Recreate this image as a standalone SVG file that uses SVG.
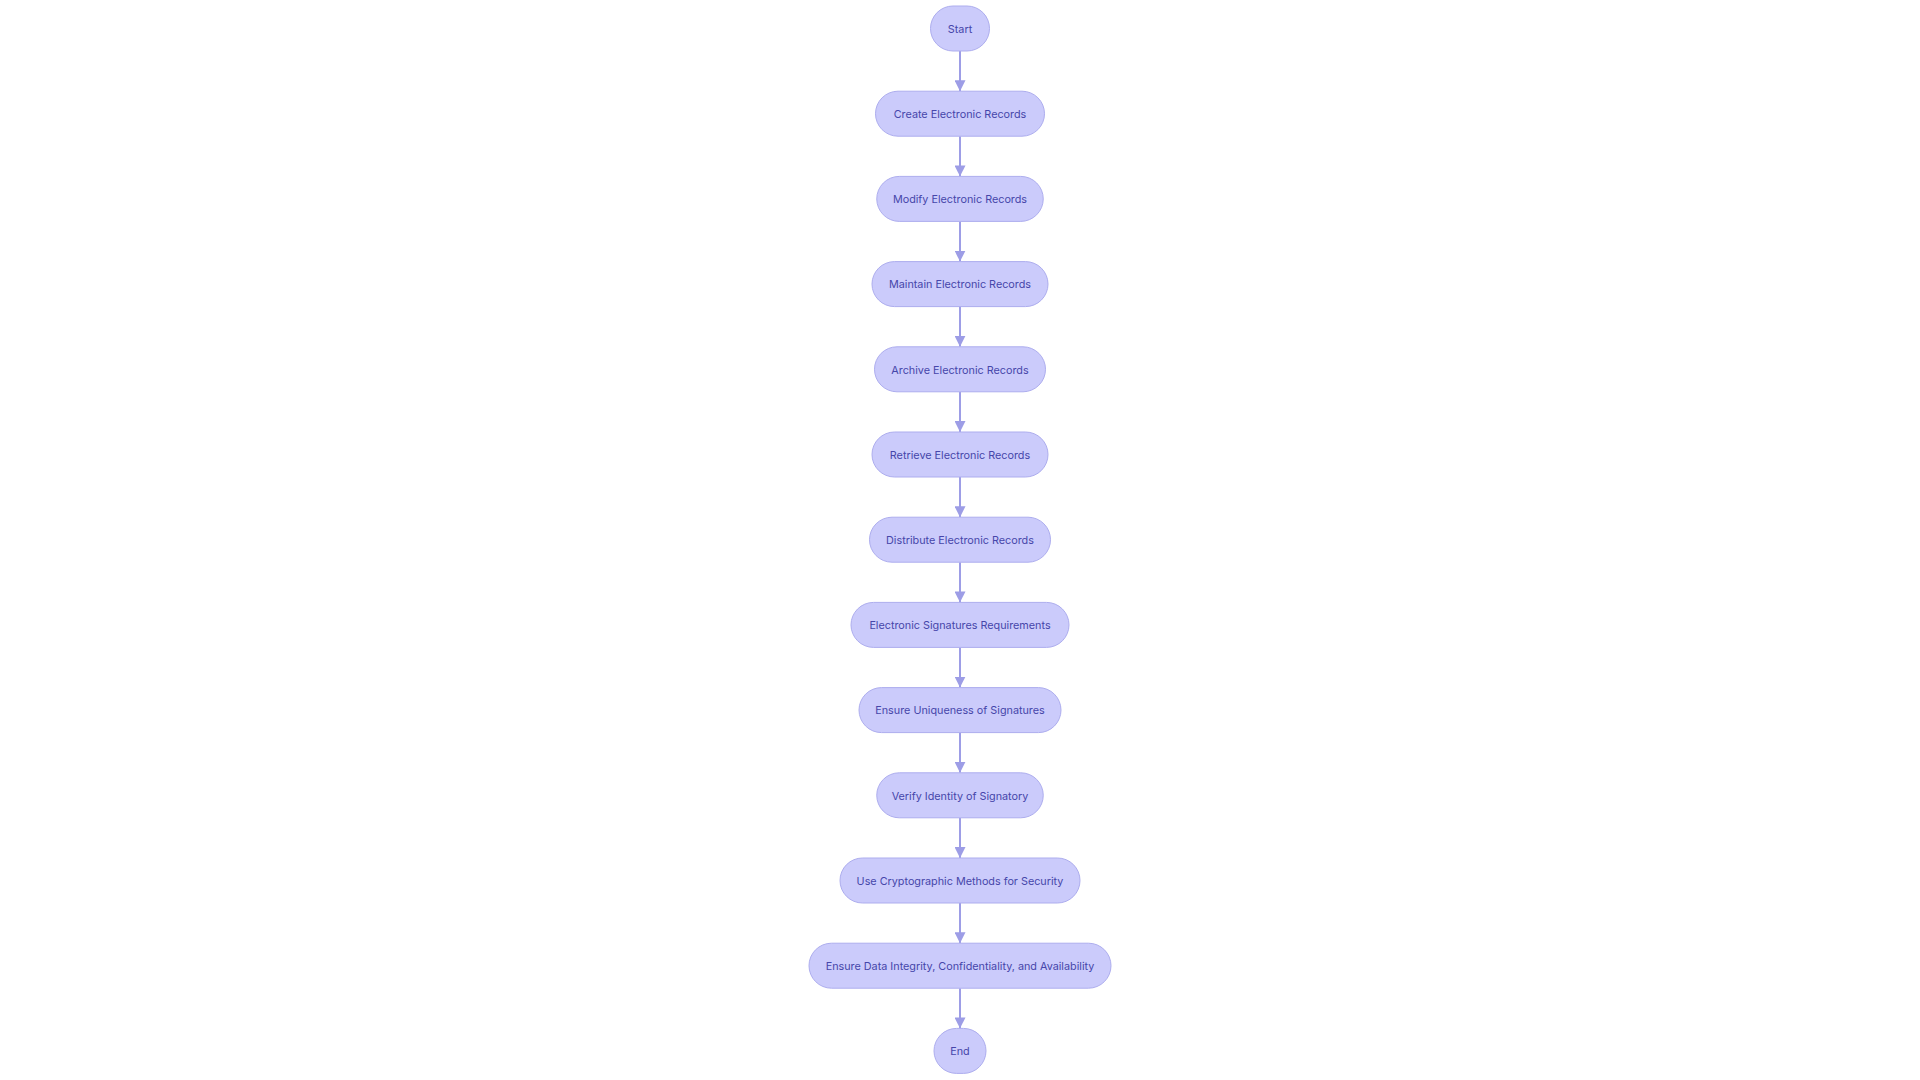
<svg xmlns="http://www.w3.org/2000/svg" width="1920" height="1080" viewBox="0 0 1920 1080">
<defs>
<marker id="arrow" viewBox="0 0 10 10" refX="10" refY="5" markerWidth="11" markerHeight="11" markerUnits="userSpaceOnUse" orient="auto">
<path d="M0,0 L10,5 L0,10 z" fill="#9d9de6"/>
</marker>
<style>
.node rect{fill:#cbcbfb;stroke:#adadee;stroke-width:1}
.node text{font-family:Inter,"Liberation Sans",sans-serif;font-size:10.8px;fill:#4646aa;text-anchor:middle;dominant-baseline:central}
.edges line{stroke:#9d9de6;stroke-width:2;marker-end:url(#arrow)}
</style>
</defs>
<rect width="1920" height="1080" fill="#ffffff"/>
<g class="edges">
<line x1="960" y1="51" x2="960" y2="91.2"/>
<line x1="960" y1="136.2" x2="960" y2="176.4"/>
<line x1="960" y1="221.4" x2="960" y2="261.6"/>
<line x1="960" y1="306.6" x2="960" y2="346.8"/>
<line x1="960" y1="391.8" x2="960" y2="432"/>
<line x1="960" y1="477" x2="960" y2="517.2"/>
<line x1="960" y1="562.2" x2="960" y2="602.4"/>
<line x1="960" y1="647.4" x2="960" y2="687.6"/>
<line x1="960" y1="732.6" x2="960" y2="772.8"/>
<line x1="960" y1="817.8" x2="960" y2="858"/>
<line x1="960" y1="903" x2="960" y2="943.2"/>
<line x1="960" y1="988.2" x2="960" y2="1028.4"/>
</g>
<g id="start" class="node"><rect x="930.5" y="6" width="59" height="45" rx="22.5"/><text x="960" y="29.3">Start</text></g>
<g id="create" class="node"><rect x="875.5" y="91.2" width="169" height="45" rx="22.5"/><text x="960" y="114.5">Create Electronic Records</text></g>
<g id="modify" class="node"><rect x="876.75" y="176.4" width="166.5" height="45" rx="22.5"/><text x="960" y="199.7">Modify Electronic Records</text></g>
<g id="maintain" class="node"><rect x="872" y="261.6" width="176" height="45" rx="22.5"/><text x="960" y="284.9">Maintain Electronic Records</text></g>
<g id="archive" class="node"><rect x="874.5" y="346.8" width="171" height="45" rx="22.5"/><text x="960" y="370.1">Archive Electronic Records</text></g>
<g id="retrieve" class="node"><rect x="872" y="432" width="176" height="45" rx="22.5"/><text x="960" y="455.3">Retrieve Electronic Records</text></g>
<g id="distribute" class="node"><rect x="869.5" y="517.2" width="181" height="45" rx="22.5"/><text x="960" y="540.5">Distribute Electronic Records</text></g>
<g id="esr" class="node"><rect x="851" y="602.4" width="218" height="45" rx="22.5"/><text x="960" y="625.7">Electronic Signatures Requirements</text></g>
<g id="unique" class="node"><rect x="859" y="687.6" width="202" height="45" rx="22.5"/><text x="960" y="710.9">Ensure Uniqueness of Signatures</text></g>
<g id="verify" class="node"><rect x="876.75" y="772.8" width="166.5" height="45" rx="22.5"/><text x="960" y="796.1">Verify Identity of Signatory</text></g>
<g id="crypto" class="node"><rect x="840" y="858" width="240" height="45" rx="22.5"/><text x="960" y="881.3">Use Cryptographic Methods for Security</text></g>
<g id="integrity" class="node"><rect x="809" y="943.2" width="302" height="45" rx="22.5"/><text x="960" y="966.5">Ensure Data Integrity, Confidentiality, and Availability</text></g>
<g id="end" class="node"><rect x="934" y="1028.4" width="52" height="45" rx="22.5"/><text x="960" y="1051.7">End</text></g>
</svg>
